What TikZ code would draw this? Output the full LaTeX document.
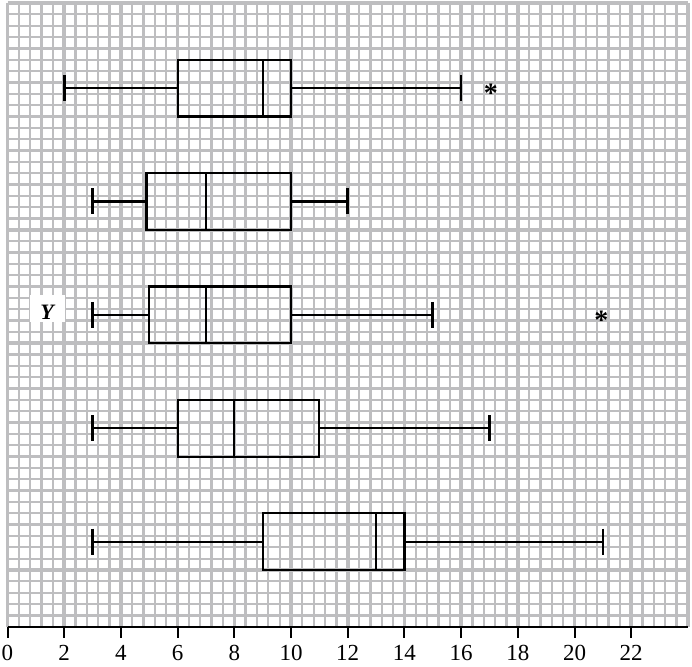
\documentclass[tikz,border=0pt]{standalone}
\usepackage{fontspec}
\setmainfont{Liberation Serif}
\definecolor{gridgray}{RGB}{190,190,192}
\tikzset{
  minorline/.style={draw=gridgray, line width=2.3pt},
  majorline/.style={draw=gridgray, line width=3.6pt},
  bpline/.style={draw=black, line width=2.2pt},
  capline/.style={draw=black, line width=2.6pt},
  axisline/.style={draw=black, line width=2pt},
  ticklabel/.style={font=\fontsize{23}{23}\selectfont, anchor=base, inner sep=0pt},
  outlier/.style={font=\bfseries\fontsize{28}{28}\selectfont, inner sep=0pt},
}
\begin{document}
\begin{tikzpicture}[x=28.35pt,y=-11.34pt]
\useasboundingbox (-7.5pt,3pt) rectangle (684.5pt,-663pt);
% grid
\foreach \i in {0,...,60} \draw[minorline] (\i*0.4,0) -- (\i*0.4,55);
\foreach \j in {0,...,55} \draw[minorline] (0,\j) -- (24,\j);
\foreach \i in {0,2,...,24} \draw[majorline] (\i,0) -- (\i,55);
\foreach \j in {0,10,...,50} \draw[majorline] (0,\j) -- (24,\j);
% Y label
\fill[white] (0.794,25.75) rectangle (2.028,28.13);
\node[font=\bfseries\itshape\fontsize{22}{22}\selectfont, anchor=base, inner sep=0pt] (ylab) at (1.40,27.9) {Y};
% box plots
\foreach \r/\a/\b/\c/\d/\e in {7.5/2/6/9/10/16, 17.5/3/4.9/7/10/12, 27.5/3/5/7/10/15, 37.5/3/6/8/11/17, 47.5/3/9/13/14/21}{
  \coordinate (wl) at (\a,\r);
  \coordinate (ql) at (\b,\r);
  \coordinate (qr) at (\d,\r);
  \coordinate (wr) at (\e,\r);
  \draw[bpline] (wl) -- (ql);
  \draw[bpline] (qr) -- (wr);
  \draw[bpline] (\b,\r-2.5) rectangle (\d,\r+2.5);
  \draw[bpline] (\c,\r-2.5) -- (\c,\r+2.5);
  \draw[capline] (\a,\r-1.15) -- (\a,\r+1.15);
  \draw[capline] (\e,\r-1.15) -- (\e,\r+1.15);
}
% outliers
\node[outlier, anchor=base] (out1) at (17.05,8.75) {*};
\node[outlier, anchor=base] (out2) at (20.95,28.75) {*};
% axis
\draw[axisline] (0,55) -- (24,55);
\foreach \v in {0,2,...,22}{
  \draw[axisline] (\v,55) -- (\v,56);
  \node[ticklabel] (t\v) at (\v,57.95) {\v};
}
\end{tikzpicture}
\end{document}
